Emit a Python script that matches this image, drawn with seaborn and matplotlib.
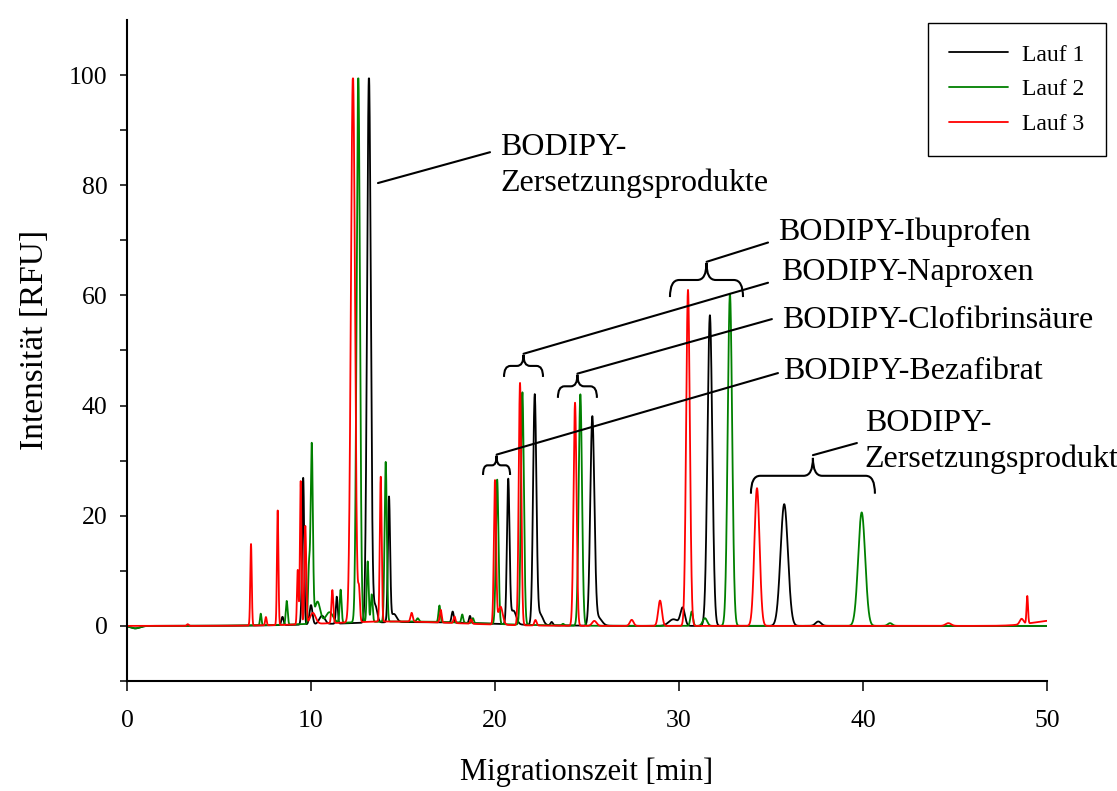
import numpy as np
import pandas as pd
import matplotlib
matplotlib.use("Agg")
import matplotlib.pyplot as plt
from matplotlib.path import Path
from matplotlib.patches import PathPatch
import seaborn as sns

# ---------------- data ----------------
run_names = ["Lauf 1", "Lauf 2", "Lauf 3"]
run_colors = ["#000000", "#008000", "#FF0000"]

# peak tables: migration time [min], intensity [RFU], peak sigma [min]
lauf1_t = [0.45, 8.45, 9.50, 9.58, 10.00, 10.60, 11.40, 13.15, 13.50, 14.24, 14.50,
           15.50, 17.70, 18.64, 20.72, 21.00, 22.16, 22.45, 23.08, 25.29, 25.60,
           29.70, 30.20, 31.68, 35.72, 37.57]
lauf1_h = [-0.45, 1.5, 3.0, 25.8, 3.5, 1.5, 4.9, 99.4, 3.0, 22.5, 1.5,
           0.7, 2.0, 1.3, 26.0, 2.5, 41.6, 2.0, 0.6, 37.6, 1.5,
           1.2, 3.2, 56.4, 22.1, 0.8]
lauf1_w = [0.25, 0.06, 0.05, 0.05, 0.08, 0.15, 0.05, 0.10, 0.10, 0.06, 0.15,
           4.0, 0.06, 0.05, 0.07, 0.15, 0.09, 0.15, 0.06, 0.11, 0.2,
           0.25, 0.12, 0.13, 0.20, 0.15]

lauf2_t = [0.45, 7.27, 8.68, 9.89, 10.04, 10.35, 11.00, 11.61, 12.57, 13.08, 13.30,
           14.06, 15.00, 15.80, 16.98, 18.22, 18.80, 20.12, 21.49, 23.70, 24.64,
           30.69, 31.41, 32.77, 39.93, 41.47]
lauf2_h = [-0.45, 2.1, 4.3, 10.0, 32.3, 4.0, 2.0, 6.0, 99.4, 11.0, 5.0,
           29.0, 0.8, 0.6, 3.0, 1.5, 0.9, 26.2, 42.2, 0.3, 42.0,
           2.6, 1.4, 60.3, 20.6, 0.5]
lauf2_w = [0.25, 0.04, 0.05, 0.05, 0.06, 0.15, 0.20, 0.05, 0.09, 0.05, 0.05,
           0.06, 4.0, 0.06, 0.05, 0.05, 0.05, 0.07, 0.08, 0.06, 0.09,
           0.07, 0.12, 0.12, 0.19, 0.12]

lauf3_t = [3.30, 6.74, 7.55, 8.19, 9.28, 9.44, 9.69, 10.10, 11.16, 12.28, 12.61,
           13.79, 14.50, 15.47, 17.05, 17.80, 18.70, 20.00, 20.30, 21.36, 22.20,
           24.35, 25.40, 27.43, 28.97, 30.49, 34.24, 44.64, 48.62, 48.93, 50.50]
lauf3_h = [0.3, 14.8, 1.5, 20.8, 9.9, 26.0, 17.8, 2.0, 6.0, 99.4, 5.6,
           26.3, 0.8, 1.6, 2.3, 1.2, 0.8, 26.1, 3.3, 44.0, 1.0,
           40.5, 0.9, 1.1, 4.6, 61.0, 25.0, 0.5, 1.0, 5.0, 1.0]
lauf3_w = [0.05, 0.04, 0.04, 0.04, 0.04, 0.04, 0.05, 0.15, 0.05, 0.11, 0.05,
           0.05, 3.5, 0.06, 0.05, 0.05, 0.05, 0.06, 0.12, 0.07, 0.06,
           0.08, 0.12, 0.10, 0.10, 0.10, 0.14, 0.15, 0.10, 0.04, 1.2]

detector_max = 99.4   # detector saturation level [RFU]

# ---------------- build traces from the peak tables ----------------
time = np.linspace(0, 50, 10001)

def trace(ts, hs, ws):
    y = np.zeros_like(time)
    for t0, h, w in zip(ts, hs, ws):
        y += h * np.exp(-0.5 * ((time - t0) / w) ** 2)
    return np.minimum(y, detector_max)

frames = []
for name, (ts, hs, ws) in zip(run_names, [(lauf1_t, lauf1_h, lauf1_w),
                                           (lauf2_t, lauf2_h, lauf2_w),
                                           (lauf3_t, lauf3_h, lauf3_w)]):
    frames.append(pd.DataFrame({"t": time, "I": trace(ts, hs, ws), "Lauf": name}))
df = pd.concat(frames, ignore_index=True)

# ---------------- plotting ----------------
sns.set_style("ticks")
plt.rcParams["font.family"] = ["Liberation Serif", "DejaVu Serif"]
plt.rcParams["text.color"] = "black"
plt.rcParams["axes.labelcolor"] = "black"
plt.rcParams["axes.edgecolor"] = "black"
plt.rcParams["xtick.color"] = "black"
plt.rcParams["ytick.color"] = "black"

fig = plt.figure(figsize=(11.17, 7.91), dpi=100)
ax = fig.add_axes([0.1137, 0.1391, 0.8236, 0.8356])

sns.lineplot(data=df, x="t", y="I", hue="Lauf", hue_order=run_names,
             palette=run_colors, linewidth=1.3, estimator=None, sort=False,
             ax=ax, legend=True)

ax.set_xlim(0, 50)
ax.set_ylim(-10, 110)
ax.set_xticks([0, 10, 20, 30, 40, 50])
yt = list(range(-10, 101, 10))
ax.set_yticks(yt)
ax.set_yticklabels([str(v) if (v >= 0 and v % 20 == 0) else "" for v in yt])
ax.tick_params(axis="x", direction="out", length=7, width=1.1, labelsize=18.5, pad=14,
               colors="black")
ax.tick_params(axis="y", direction="out", length=5, width=1.1, labelsize=18.5, pad=9,
               colors="black")
for s in ["top", "right"]:
    ax.spines[s].set_visible(False)
for s in ["left", "bottom"]:
    ax.spines[s].set_linewidth(1.5)
    ax.spines[s].set_color("black")

ax.set_xlabel("Migrationszeit [min]", fontsize=22, labelpad=18)
ax.set_ylabel("Intensität [RFU]", fontsize=24)
ax.yaxis.set_label_coords(-0.084, 0.516)

# legend
handles, labels = ax.get_legend_handles_labels()
leg = ax.legend(handles, labels, loc="upper right",
                bbox_to_anchor=(0.990, 0.971), bbox_transform=fig.transFigure,
                fontsize=17, frameon=True, fancybox=False, framealpha=1,
                edgecolor="black", borderpad=0.9, labelspacing=0.56,
                handlelength=2.5, handletextpad=0.6, borderaxespad=0)
leg.get_frame().set_linewidth(1.0)
for ln in leg.get_lines():
    ln.set_linewidth(1.3)

# ---------------- annotations ----------------
def brace(x0, x1, yb, yt):
    xc = (x0 + x1) / 2
    ym = (yb + yt) / 2
    r = min(0.5, (x1 - x0) / 6)
    verts = [(x0, yb), (x0, ym), (x0 + r, ym), (xc - r, ym), (xc, ym), (xc, yt),
             (xc, ym), (xc + r, ym), (x1 - r, ym), (x1, ym), (x1, yb)]
    codes = [Path.MOVETO, Path.CURVE3, Path.CURVE3, Path.LINETO, Path.CURVE3, Path.CURVE3,
             Path.CURVE3, Path.CURVE3, Path.LINETO, Path.CURVE3, Path.CURVE3]
    ax.add_patch(PathPatch(Path(verts, codes), facecolor="none", edgecolor="black",
                           linewidth=1.5, clip_on=False))

def leader(x0, y0, x1, y1):
    ax.plot([x0, x1], [y0, y1], color="black", linewidth=1.5, clip_on=False)

afs = 23
# BODIPY-Zersetzungsprodukte (main peaks)
leader(13.64, 80.4, 19.73, 86.0)
ax.text(20.27, 83.6, "BODIPY-\nZersetzungsprodukte", fontsize=afs, va="center",
        ha="left", linespacing=1.3)
# Ibuprofen
brace(29.51, 33.48, 59.7, 65.9)
leader(31.50, 66.1, 34.84, 69.6)
ax.text(35.38, 71.5, "BODIPY-Ibuprofen", fontsize=afs, va="center", ha="left")
# Naproxen
brace(20.49, 22.61, 45.2, 49.2)
leader(21.55, 49.4, 34.84, 62.3)
ax.text(35.54, 64.2, "BODIPY-Naproxen", fontsize=afs, va="center", ha="left")
# Clofibrinsäure
brace(23.42, 25.54, 41.4, 45.6)
leader(24.48, 45.8, 35.05, 55.7)
ax.text(35.60, 55.4, "BODIPY-Clofibrinsäure", fontsize=afs, va="center", ha="left")
# Bezafibrat
brace(19.35, 20.82, 27.4, 30.9)
leader(20.09, 31.1, 35.38, 45.9)
ax.text(35.65, 46.1, "BODIPY-Bezafibrat", fontsize=afs, va="center", ha="left")
# Zersetzungsprodukt (late peaks)
brace(33.91, 40.65, 24.0, 30.5)
leader(37.28, 31.0, 39.67, 33.2)
ax.text(40.10, 33.5, "BODIPY-\nZersetzungsprodukt", fontsize=afs, va="center",
        ha="left", linespacing=1.3)

fig.savefig("out.png", dpi=100)
